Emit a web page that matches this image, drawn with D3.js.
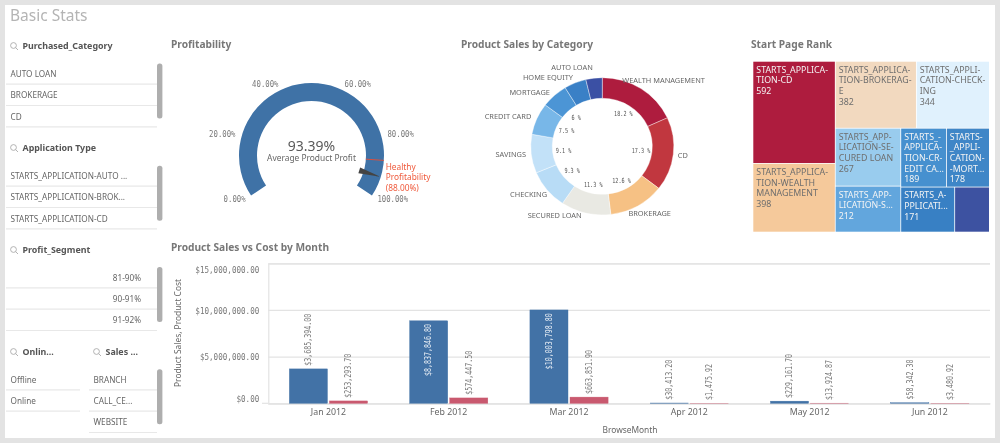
<!DOCTYPE html>
<html>
<head>
<meta charset="utf-8">
<script src="https://d3js.org/d3.v7.min.js"></script>
<style>
html,body{margin:0;padding:0;background:#e3e3e3;overflow:hidden}
svg{display:block;filter:blur(.4px)}
text{font-family:"Noto Sans",sans-serif}
.num{font-family:"DejaVu Sans Mono",monospace}
.title{font-weight:700;font-size:10.2px;fill:#777}
.filter-title{font-weight:700;font-size:8.9px;fill:#555}
.row{font-size:8.2px;fill:#666}
</style>
</head>
<body>
<script>
// filters
var purchasedCategory=["AUTO LOAN","BROKERAGE","CD"]
var applicationType=["STARTS_APPLICATION-AUTO ...","STARTS_APPLICATION-BROK...","STARTS_APPLICATION-CD"]
var profitSegment=["81-90%","90-91%","91-92%"]
var onlineRows=["Offline","Online"]
var salesRows=["BRANCH","CALL_CE...","WEBSITE"]

// gauge
var gaugeTicks=[0,20,40,60,80,100]
var gaugeValue=93.39
var gaugeTarget=88

// donut
var donutCategories=["WEALTH MANAGEMENT","CD","BROKERAGE","SECURED LOAN","CHECKING","SAVINGS","CREDIT CARD","MORTGAGE","HOME EQUITY","AUTO LOAN"]
var donutValues=[18.2,17.3,12.6,11.3,9.3,9.1,7.5,6,5,3.7]
var donutPercentLabels=["18.2 %","17.3 %","12.6 %","11.3 %","9.3 %","9.1 %","7.5 %","6 %","",""]

// treemap
var treeValues=[592,398,382,344,267,212,189,178,171,110]
var treeLabels=[
["STARTS_APPLICA-","TION-CD","592"],
["STARTS_APPLICA-","TION-WEALTH","MANAGEMENT","398"],
["STARTS_APPLICA-","TION-BROKERAG-","E","382"],
["STARTS_APPLI-","CATION-CHECK-","ING","344"],
["STARTS_APP-","LICATION-SE-","CURED LOAN","267"],
["STARTS_APP-","LICATION-S...","212"],
["STARTS_-","APPLICA-","TION-CR-","EDIT CA...","189"],
["STARTS-","_APPLI-","CATION-","-MORT...","178"],
["STARTS_A-","PPLICATI...","171"],
[]
]

// bars
var months=["Jan 2012","Feb 2012","Mar 2012","Apr 2012","May 2012","Jun 2012"]
var productSales=[3685394.00,8837846.80,10003798.80,30413.20,229161.70,58342.30]
var productCost=[253293.70,574447.50,663851.90,1475.92,13924.87,3480.92]
var yTicks=[0,5000000,10000000,15000000]

var donutColors=["#ae1c3e","#c1373f","#f6c184","#e9e9e3","#b8dcf6","#c2e1f8","#78b7e8","#4c95d5","#3a80c6","#3b50a4"]
var treeColors=["#ae1c3e","#f5c99b","#f2d9bf","#e0f1fd","#99ccee","#62a6dd","#4690cf","#3f86c7","#3880c4","#3d52a1"]
var treeDark=[true,false,false,false,false,true,true,true,true,true]

var svg=d3.select("body").append("svg").attr("width",1000).attr("height",443)
svg.append("rect").attr("width",1000).attr("height",443).attr("fill","#e3e3e3")
svg.append("rect").attr("x",5).attr("y",5).attr("width",990).attr("height",433).attr("fill","#fff")

svg.append("text").attr("x",10).attr("y",21).attr("font-size",15.5).attr("fill","#b4b4b4").text("Basic Stats")

function title(x,y,s){
svg.append("text").attr("class","title").attr("x",x).attr("y",y).text(s)
}
title(171,48,"Profitability")
title(461,48,"Product Sales by Category")
title(751,48,"Start Page Rank")
title(171,251,"Product Sales vs Cost by Month")

// squeezes the mono numbers to the narrow width they have in the original
function squeeze(sel,perChar){
sel.attr("lengthAdjust","spacingAndGlyphs").attr("textLength",function(){return this.textContent.length*perChar})
}

// ---- filter panes
function searchIcon(x,y){
var g=svg.append("g").attr("transform","translate("+x+","+y+")").attr("fill","none").attr("stroke","#aaa").attr("stroke-width",.9)
g.append("circle").attr("cx",3.5).attr("cy",-.5).attr("r",2.9)
g.append("line").attr("x1",5.6).attr("y1",1.6).attr("x2",8).attr("y2",4)
}
function pane(o){
searchIcon(o.x0+4,o.titleY)
svg.append("text").attr("class","filter-title").attr("x",o.x0+16.5).attr("y",o.titleY+3.2).text(o.title)
o.rows.forEach(function(r,i){
var y=o.rowY+i*21.3
svg.append("text").attr("class","row").attr("x",o.right?141:o.x0+4.5).attr("y",y+3).attr("text-anchor",o.right?"end":"start").text(r)
svg.append("line").attr("x1",o.x0).attr("x2",o.x1).attr("y1",y+10.2).attr("y2",y+10.2).attr("stroke","#e8e8e8").attr("stroke-width",1.2)
})
if(o.scroll!=null){
svg.append("rect").attr("x",157).attr("y",o.scroll).attr("width",5.4).attr("height",55).attr("rx",2.5).attr("fill","#aeaeae")
}
}
pane({x0:6,x1:157,title:"Purchased_Category",titleY:46,rows:purchasedCategory,rowY:74,scroll:63.5})
pane({x0:6,x1:157,title:"Application Type",titleY:148,rows:applicationType,rowY:176,scroll:165.7})
pane({x0:6,x1:157,title:"Profit_Segment",titleY:250,rows:profitSegment,rowY:277.7,scroll:266.9,right:true})
pane({x0:6,x1:80,title:"Onlin...",titleY:352,rows:onlineRows,rowY:379.7})
pane({x0:89,x1:157,title:"Sales ...",titleY:352,rows:salesRows,rowY:379.7,scroll:369.3})

// ---- gauge
var gx=311.5,gy=155.5,gOuter=72.5,gInner=54.5
var gStart=-123.5*Math.PI/180
var gAngle=d3.scaleLinear().domain([0,100]).range([gStart,-gStart])
var gauge=svg.append("g").attr("transform","translate("+gx+","+gy+")")
gauge.append("path").attr("fill","#3f72a6")
.attr("d",d3.arc().innerRadius(gInner).outerRadius(gOuter).startAngle(gAngle(0)).endAngle(gAngle(100)))
function polar(v,r){
var a=gAngle(v)
return [r*Math.sin(a),-r*Math.cos(a)]
}
gauge.selectAll(".glabel").data(gaugeTicks).enter().append("text").attr("class","num")
.attr("font-size",8.4).attr("fill","#777")
.attr("text-anchor",function(d){return d<50?"end":"start"})
.attr("x",function(d){return polar(d,79)[0]})
.attr("y",function(d){return polar(d,79)[1]+3})
.text(function(d){return d3.format(".2f")(d)+"%"})
.call(squeeze,4.4)
gauge.append("line").attr("stroke","#d8503f").attr("stroke-width",1)
.attr("x1",polar(gaugeTarget,gInner)[0]).attr("y1",polar(gaugeTarget,gInner)[1])
.attr("x2",polar(gaugeTarget,gOuter)[0]).attr("y2",polar(gaugeTarget,gOuter)[1])
var needleBase=polar(gaugeValue,50),needleTip=polar(gaugeValue,72),a=gAngle(gaugeValue)
gauge.append("path").attr("fill","#444").attr("d",d3.line()([
[needleBase[0]+3*Math.cos(a),needleBase[1]+3*Math.sin(a)],
needleTip,
[needleBase[0]-3*Math.cos(a),needleBase[1]-3*Math.sin(a)]
])+"Z")
svg.append("text").attr("x",gx).attr("y",151).attr("text-anchor","middle").attr("font-size",14).attr("fill","#5a5a5a").text(gaugeValue.toFixed(2)+"%")
svg.append("text").attr("x",gx).attr("y",161).attr("text-anchor","middle").attr("font-size",8.4).attr("fill","#666").text("Average Product Profit")
var redText=["Healthy","Profitability","("+gaugeTarget.toFixed(2)+"%)"]
svg.selectAll(".red").data(redText).enter().append("text").attr("x",385.7)
.attr("y",function(d,i){return 169.5+i*10.5}).attr("font-size",8.3).attr("fill","#ef5a3c").text(function(d){return d})

// ---- donut
var dx=602.3,dy=146.3,dOuter=71.5,dInner=50
var pie=d3.pie().sort(null)(donutValues)
var donut=svg.append("g").attr("transform","translate("+dx+","+dy+")")
// the original picture is a little stretched, the ring is not quite round
donut.append("g").attr("transform","scale(1,.96)").selectAll("path").data(pie).enter().append("path")
.attr("fill",function(d,i){return donutColors[i]}).attr("stroke","#fff").attr("stroke-width",.4)
.attr("d",d3.arc().innerRadius(dInner).outerRadius(dOuter))
function mid(d,r){
var m=(d.startAngle+d.endAngle)/2
return [r*Math.sin(m),-r*Math.cos(m)]
}
// the labels are pushed around by the overlap handling of the original chart
var nudge=[[18,1],[1,0],[8,-3],[-29,-9],[-12,-3],[-12,-1],[-21,2],[-19,5],[-24,5],[-21,0]]
donut.selectAll(".outer").data(pie).enter().append("text").attr("text-anchor","middle").attr("font-size",7.4).attr("fill","#666")
.attr("x",function(d,i){return mid(d,80)[0]+nudge[i][0]})
.attr("y",function(d,i){return mid(d,80)[1]+nudge[i][1]+2.7})
.text(function(d,i){return donutCategories[i]})
donut.selectAll(".pct").data(pie).enter().append("text").attr("class","num").attr("text-anchor","middle").attr("font-size",7).attr("fill","#555")
.attr("x",function(d){return mid(d,39)[0]})
.attr("y",function(d){return mid(d,39)[1]+2.4})
.text(function(d,i){return donutPercentLabels[i]})
.filter(function(){return this.textContent.length>0}).call(squeeze,3.1)

// ---- treemap
var root=d3.hierarchy({children:treeValues.map(function(v,i){return {value:v,index:i}})}).sum(function(d){return d.value||0})
d3.treemap().tile(d3.treemapSquarify.ratio(1)).size([235.7,170]).paddingInner(.8)(root)
var cells=svg.append("g").attr("transform","translate(753.3,61.7)").selectAll("g").data(root.leaves()).enter().append("g")
.attr("transform",function(d){return "translate("+d.x0+","+d.y0+")"})
cells.append("rect").attr("width",function(d){return d.x1-d.x0}).attr("height",function(d){return d.y1-d.y0})
.attr("fill",function(d){return treeColors[d.data.index]})
cells.each(function(d){
var i=d.data.index
d3.select(this).selectAll("text").data(treeLabels[i]).enter().append("text")
.attr("x",3).attr("y",function(s,j){return 11+j*10.7}).attr("font-size",8.8)
.attr("fill",treeDark[i]?"#f4f4f4":"#6e6e6e").text(function(s){return s})
})

// ---- bars
var x0=d3.scaleBand().domain(months).range([268.3,990]).paddingInner(.35).paddingOuter(.175)
var x1=d3.scaleBand().domain([0,1]).range([0,x0.bandwidth()]).paddingInner(.05)
var y=d3.scaleLinear().domain([0,15000000]).range([403.3,263.3])
var money=d3.format("$,.2f")

var yAxis=svg.append("g").attr("transform","translate(268.3,0)")
.call(d3.axisLeft(y).tickValues(yTicks).tickSize(-721.7).tickPadding(9).tickFormat(money))
yAxis.select(".domain").attr("stroke","#e3e3e3").attr("stroke-width",1.2)
yAxis.selectAll("line").attr("stroke","#e3e3e3").attr("stroke-width",1.2)
yAxis.selectAll("text").attr("class","num").attr("font-size",8.6).attr("fill","#777")
yAxis.selectAll(".tick text").attr("dy",function(d){return d==0?"-2.2px":d==15000000?"9px":"3.1px"}).call(squeeze,4.57)

svg.append("line").attr("x1",262).attr("x2",268.3).attr("y1",y(0)).attr("y2",y(0)).attr("stroke","#e3e3e3").attr("stroke-width",1.2)

var xAxis=svg.append("g").attr("transform","translate(0,"+y(0)+")")
.call(d3.axisBottom(x0).tickSize(0).tickPadding(5.5))
xAxis.select(".domain").attr("stroke","#e3e3e3").attr("stroke-width",1.2)
xAxis.selectAll("text").attr("font-size",8.8).attr("fill","#666")

svg.append("text").attr("x",630).attr("y",433).attr("text-anchor","middle").attr("font-size",8.4).attr("fill","#666").text("BrowseMonth")
svg.append("text").attr("transform","translate(181,333) rotate(-90)").attr("text-anchor","middle").attr("font-size",8.4).attr("fill","#666").text("Product Sales, Product Cost")

function drawSeries(vals,idx,color){
var g=svg.append("g")
var w=x1.bandwidth()
g.selectAll("rect").data(vals).enter().append("rect")
.attr("x",function(d,i){return x0(months[i])+x1(idx)})
.attr("y",function(d){return y(d)})
.attr("width",w)
.attr("height",function(d){return y(0)-y(d)})
.attr("fill",color).attr("stroke",color).attr("stroke-width",.4)
g.selectAll("text").data(vals).enter().append("text").attr("class","num")
.attr("font-size",8.2).attr("fill",function(d){return y(0)-y(d)>60?"#e8eef5":"#777"})
.attr("text-anchor",function(d){return y(0)-y(d)>60?"end":"start"})
.attr("transform",function(d,i){
var cx=x0(months[i])+x1(idx)+w/2+2.8
var h=y(0)-y(d)
return "translate("+cx+","+(h>60?y(d)+3.3:y(d)-3.2)+") rotate(-90)"
})
.text(function(d){return money(d)})
.call(squeeze,4)
}
drawSeries(productSales,0,"#4272a6")
drawSeries(productCost,1,"#c9596f")
</script>
</body>
</html>
